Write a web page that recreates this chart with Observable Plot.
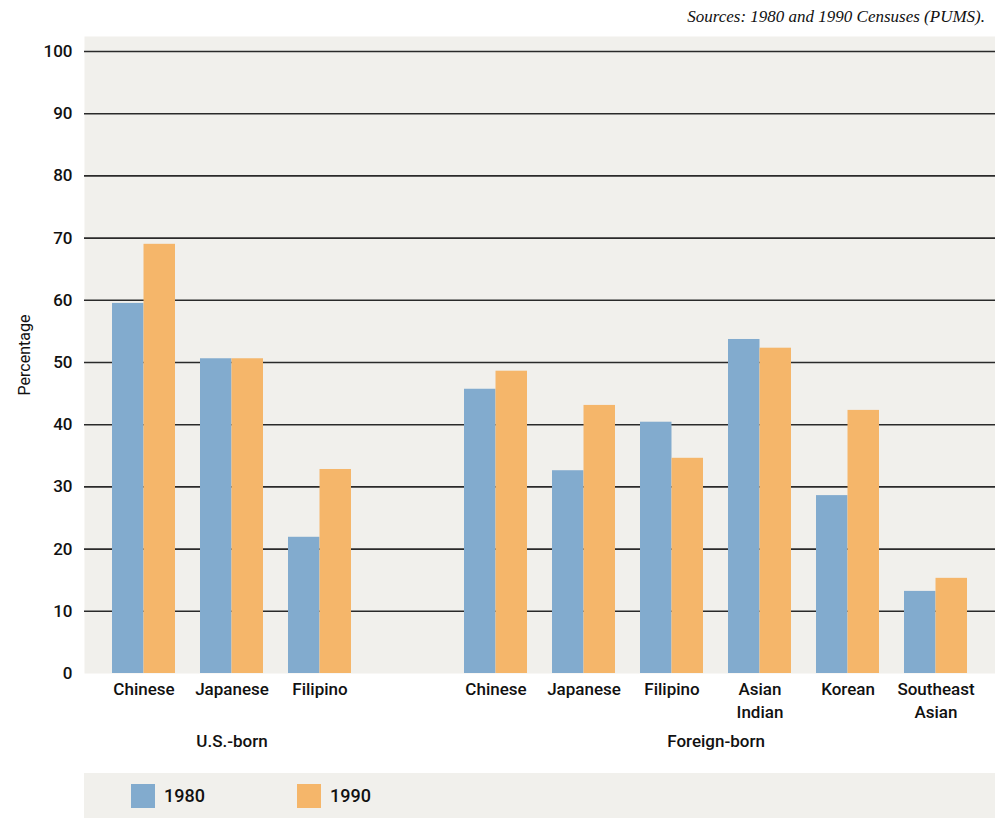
<!DOCTYPE html>
<html>
<head>
<meta charset="utf-8">
<script src="https://cdn.jsdelivr.net/npm/d3@7"></script>
<script src="https://cdn.jsdelivr.net/npm/@observablehq/plot@0.6"></script>
<style>
  html, body { margin: 0; padding: 0; background: #fff; }
  body { width: 995px; font-family: Roboto, "Liberation Sans", sans-serif; color: #111; }
  #source { height: 36px; line-height: 33px; text-align: right; padding-right: 10px; font-family: "Liberation Serif", serif; font-style: italic; font-size: 17px; color: #111; }
  #legend { margin-left: 84px; width: 911px; height: 45px; background: #f1f0ec; display: flex; align-items: center; padding-left: 47px; box-sizing: border-box; }
  .item { width: 166px; display: flex; align-items: center; font-size: 18px; font-weight: 500; }
  .sw { width: 24px; height: 24px; margin-right: 9px; }
  #chart svg { display: block; }
</style>
</head>
<body>
<div id="source">Sources: 1980 and 1990 Censuses (PUMS).</div>
<div id="chart"></div>
<div id="legend"></div>
<script>
// ---- data ----
const groups = ["U.S.-born", "U.S.-born", "U.S.-born",
  "Foreign-born", "Foreign-born", "Foreign-born", "Foreign-born", "Foreign-born", "Foreign-born"];
const categories = ["Chinese", "Japanese", "Filipino",
  "Chinese", "Japanese", "Filipino", "Asian\nIndian", "Korean", "Southeast\nAsian"];
const values1980 = [59.5, 50.6, 21.9, 45.7, 32.6, 40.4, 53.7, 28.6, 13.2];
const values1990 = [69.0, 50.6, 32.8, 48.6, 43.1, 34.6, 52.3, 42.3, 15.3];
const years = ["1980", "1990"];
const yTicks = [0, 10, 20, 30, 40, 50, 60, 70, 80, 90, 100];
const groupLabels = ["U.S.-born", "Foreign-born"];

const colors = {"1980": "#82abce", "1990": "#f5b66a"};

// ---- build table ----
const keys = categories.map((c, i) => groups[i] + "|" + c);
const spacer = "spacer";
const domain = [...keys.slice(0, 3), spacer, ...keys.slice(3)];
const rows = keys.map((k, i) => ({key: k, label: categories[i], group: groups[i], v1980: values1980[i], v1990: values1990[i]}));

const width = 995, height = 737, marginLeft = 84, marginRight = 0;
const paddingInner = 0.285, paddingOuter = 0.31;
const step = (width - marginLeft - marginRight) / (domain.length - paddingInner + 2 * paddingOuter);
const bw = step * (1 - paddingInner);

// group label anchors: middle category of each group
const groupAnchors = groupLabels.map(g => {
  const ks = keys.filter((k, i) => groups[i] === g);
  const n = ks.length;
  return {label: g, key: ks[Math.floor((n - 1) / 2)], dx: n % 2 === 0 ? step / 2 : 0};
});

const font = "Roboto, 'Liberation Sans', sans-serif";

const chart = Plot.plot({
  width, height,
  marginLeft, marginRight, marginTop: 0, marginBottom: 100,
  style: {fontFamily: font, background: "transparent", color: "#111"},
  x: {type: "band", domain, paddingInner, paddingOuter, axis: null},
  y: {domain: [0, 100], insetTop: 15, axis: null},
  marks: [
    Plot.frame({fill: "#f1f0ec", stroke: null}),
    Plot.ruleY(yTicks.filter(d => d > 0), {stroke: "#2a2a2a", strokeWidth: 1.6}),
    Plot.barY(rows, {x: "key", y: "v1980", fill: colors["1980"], insetRight: bw / 2}),
    Plot.barY(rows, {x: "key", y: "v1990", fill: colors["1990"], insetLeft: bw / 2}),
    Plot.axisY({ticks: yTicks, tickSize: 0, tickPadding: 12, fontSize: 17, fontWeight: 500,
      label: "Percentage", labelAnchor: "center", labelOffset: 66, labelArrow: "none"}),
    Plot.text(rows, {x: "key", y: 0, text: "label", lineAnchor: "top", dy: 5, lineHeight: 1.35,
      fontSize: 17, fontWeight: 500, fill: "#111"}),
    ...groupAnchors.map(a => Plot.text([a], {x: "key", y: 0, text: "label", dx: a.dx, dy: 68,
      lineAnchor: "middle", fontSize: 17, fontWeight: 500, fill: "#111"}))
  ]
});
document.getElementById("chart").appendChild(chart);

// axis label styling
chart.querySelectorAll("g[aria-label='y-axis label'] text").forEach(t => {
  t.setAttribute("font-size", "16"); t.setAttribute("font-weight", "normal");
});

// legend
const legend = document.getElementById("legend");
years.forEach(y => {
  const it = document.createElement("div");
  it.className = "item";
  it.innerHTML = `<div class="sw" style="background:${colors[y]}"></div><span>${y}</span>`;
  legend.appendChild(it);
});
</script>
</body>
</html>
